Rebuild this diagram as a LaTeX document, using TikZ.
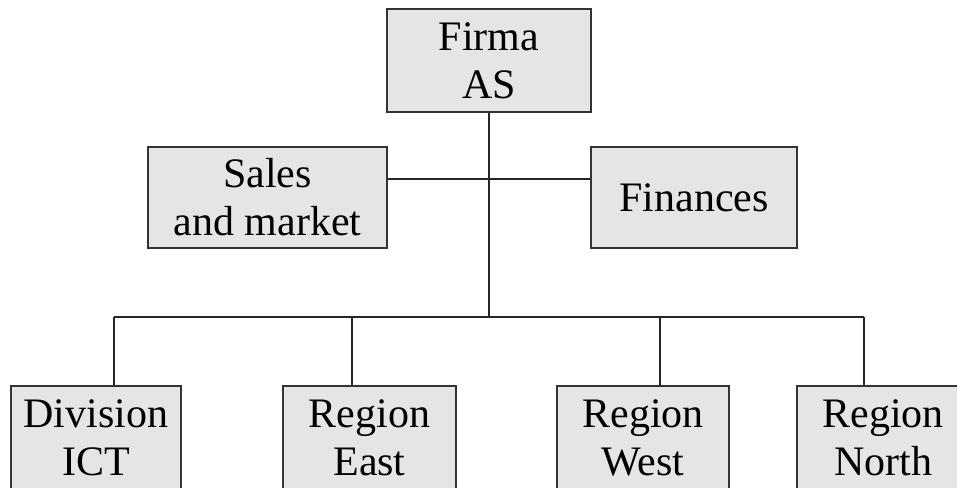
\documentclass[tikz,border=0pt]{standalone}
\usepackage{fontspec}
\setmainfont{Liberation Serif}
\begin{document}
\begin{tikzpicture}[x=1pt,y=-1pt,
  unit/.style={draw=black!80, fill=black!10, line width=1.6pt, rectangle,
    inner sep=0pt, align=center, font=\fontsize{42}{48}\selectfont},
  link/.style={draw=black!85, line width=1.6pt}]
\useasboundingbox (0,0) rectangle (957,487);

% company head
\node[unit, minimum width=204pt, minimum height=103pt] (firm) at (489,60.5) {Firma\\AS};

% staff units
\node[unit, minimum width=239pt, minimum height=101pt] (sales) at (267.5,197.5) {Sales\\and market};
\node[unit, minimum width=206pt, minimum height=101pt] (fin) at (694,197.5) {Finances};

% line units (extend below the page edge)
\node[unit, minimum width=170pt, minimum height=103pt] (div) at (96,437.5) {Division\\ICT};
\node[unit, minimum width=173pt, minimum height=103pt] (east) at (369.5,437.5) {Region\\East};
\node[unit, minimum width=172pt, minimum height=103pt] (west) at (643,437.5) {Region\\West};
\node[unit, minimum width=172pt, minimum height=103pt] (north) at (883,437.5) {Region\\North};

% connector junctions
\coordinate (tee) at (489,179);
\coordinate (hub) at (489,317);
\coordinate (busL) at (114,317);
\coordinate (dEast) at (352,317);
\coordinate (dWest) at (660,317);
\coordinate (busR) at (864,317);

\draw[link] (firm.south) -- (hub);
\draw[link] (sales.east |- tee) -- (fin.west |- tee);
\draw[link] (busL) -- (busR);
\draw[link] (busL) -- (div.north -| busL);
\draw[link] (dEast) -- (east.north -| dEast);
\draw[link] (dWest) -- (west.north -| dWest);
\draw[link] (busR) -- (north.north -| busR);
\end{tikzpicture}
\end{document}
